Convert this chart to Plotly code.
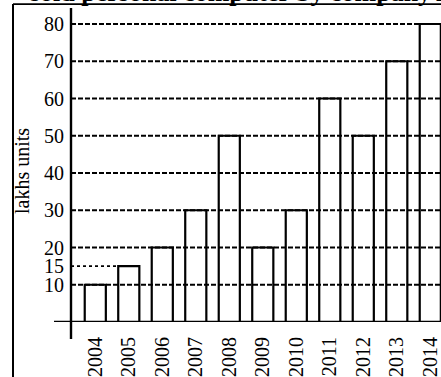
import plotly.graph_objects as go

# Yearly sales of personal computers (in lakhs of units)
years = ["2004", "2005", "2006", "2007", "2008", "2009",
         "2010", "2011", "2012", "2013", "2014"]
units = [10, 15, 20, 30, 50, 20, 30, 60, 50, 70, 80]

ytick_vals = [10, 15, 20, 30, 40, 50, 60, 70, 80]
dashed_levels = [10, 20, 30, 40, 50, 60, 70, 80]
dotted_level = 15

title_text = "sold personal computer by company A"
y_title = "lakhs units"

W, H = 441, 377
ML, MR, MT, MB = 71, 0, 8, 53
plot_w = W - ML - MR
plot_h = H - MT - MB

bar_width = 0.63
x_range = [-0.725, 10.32]
y_range = [0, 84.3]

SERIF = "Liberation Serif"

fig = go.Figure()
fig.add_trace(go.Bar(
    x=years,
    y=units,
    width=bar_width,
    marker=dict(color="rgba(0,0,0,0)", line=dict(color="black", width=2.2)),
    hoverinfo="x+y",
))

shapes = []
# dashed reference lines across the plot
for lvl in dashed_levels:
    shapes.append(dict(type="line", xref="paper", x0=0, x1=1, yref="y", y0=lvl, y1=lvl,
                       line=dict(color="black", width=2, dash="5px,2px"), layer="below"))
# dotted guide for the 2005 value, up to the left edge of its bar
i2005 = years.index("2005")
shapes.append(dict(type="line", xref="x", x0=x_range[0], x1=i2005 - bar_width / 2,
                   yref="y", y0=dotted_level, y1=dotted_level,
                   line=dict(color="black", width=1.6, dash="dot"), layer="below"))
# crossed axes: vertical axis runs below the baseline, baseline runs left of the axis
shapes.append(dict(type="line", xref="paper", x0=0, x1=0,
                   yref="paper", y0=-17 / plot_h, y1=1,
                   line=dict(color="black", width=2.4)))
shapes.append(dict(type="line", xref="paper", x0=-17 / plot_w, x1=1,
                   yref="y", y0=0, y1=0,
                   line=dict(color="black", width=2.4)))
# outer frame (left and top edges)
shapes.append(dict(type="line", xref="paper", x0=(13 - ML) / plot_w, x1=(13 - ML) / plot_w,
                   yref="paper", y0=-(MB + 5) / plot_h, y1=(plot_h + MT - 4) / plot_h,
                   line=dict(color="black", width=2)))
shapes.append(dict(type="line", xref="paper", x0=(13 - ML) / plot_w, x1=1.05,
                   yref="paper", y0=(plot_h + MT - 4) / plot_h, y1=(plot_h + MT - 4) / plot_h,
                   line=dict(color="black", width=1.8)))

annotations = [
    dict(text=y_title, textangle=-90, xref="paper", yref="paper",
         x=(22 - ML) / plot_w, y=(plot_h + MT - 172) / plot_h,
         xanchor="center", yanchor="middle", showarrow=False,
         font=dict(family=SERIF, size=20, color="black")),
    dict(text="<b>" + title_text + "</b>", xref="paper", yref="paper",
         x=(28 - ML) / plot_w, y=(plot_h + MT - 9) / plot_h,
         xanchor="left", yanchor="bottom", showarrow=False,
         font=dict(family=SERIF, size=26, color="black")),
]

fig.update_layout(
    width=W, height=H,
    margin=dict(l=ML, r=MR, t=MT, b=MB, pad=0),
    paper_bgcolor="white", plot_bgcolor="white",
    showlegend=False,
    shapes=shapes,
    annotations=annotations,
    font=dict(family=SERIF, size=20, color="black"),
)
fig.update_xaxes(
    type="category", range=x_range, showgrid=False, zeroline=False, showline=False,
    ticks="", tickangle=-90, ticklabelstandoff=10,
    tickfont=dict(family=SERIF, size=20, color="black"),
)
fig.update_yaxes(
    range=y_range, tickvals=ytick_vals, showgrid=False, zeroline=False, showline=False,
    ticks="", ticklabelstandoff=6,
    tickfont=dict(family=SERIF, size=20, color="black"),
)

fig.write_html("out.html")
